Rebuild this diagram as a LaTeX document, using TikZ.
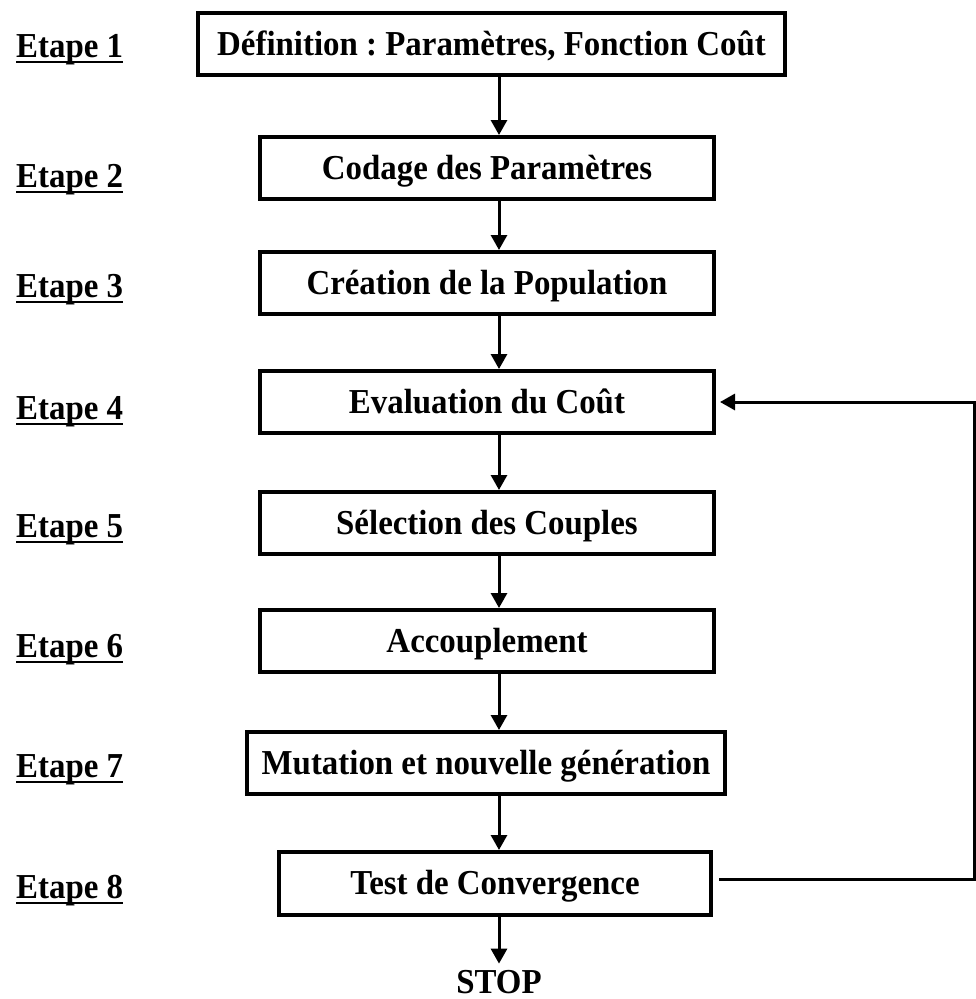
\documentclass[tikz,border=0pt]{standalone}
\usepackage{fontspec}
\setmainfont{Liberation Serif}[FakeStretch=0.94]
\usetikzlibrary{arrows.meta}
\frenchspacing

\begin{document}
\begin{tikzpicture}[
    x=1pt, y=-1pt,
    box/.style={draw, line width=4pt, minimum width=454pt, minimum height=62pt,
                inner sep=0pt, text height=28pt, text depth=6pt,
                font=\fontsize{35}{42}\selectfont\bfseries},
    etape/.style={anchor=base west, inner sep=0pt,
                  font=\fontsize{35}{42}\selectfont\bfseries},
    uline/.style={line width=2.5pt},
    flow/.style={line width=3pt, -{Triangle[length=15pt, width=16pt]}},
    >=Stealth
  ]
  \useasboundingbox (0,0) rectangle (976,999);

  % Steps
  \node[box, minimum width=587pt] (def) at (491.5, 44) {D\'efinition : Param\`etres, Fonction Co\^ut};
  \node[box] (cod) at (487, 168) {Codage des Param\`etres};
  \node[box] (pop) at (487, 283) {Cr\'eation de la Population};
  \node[box] (eval) at (487, 402) {Evaluation du Co\^ut};
  \node[box] (sel) at (487, 523) {S\'election des Couples};
  \node[box] (acc) at (487, 641) {Accouplement};
  \node[box, minimum width=478pt] (mut) at (486, 763) {Mutation et nouvelle g\'en\'eration};
  \node[box, minimum width=432pt, minimum height=63pt] (test) at (495, 883.5) {Test de Convergence};
  \node[anchor=base, inner sep=0pt,
        font=\fontsize{35}{42}\selectfont\bfseries] (stop) at (499, 993) {STOP};

  % Labels
  \node[etape] (e1) at (16, 57) {Etape 1};
  \draw[uline] ([yshift=-5pt]e1.base west) -- ([yshift=-5pt]e1.base east);
  \node[etape] (e2) at (16, 187) {Etape 2};
  \draw[uline] ([yshift=-5pt]e2.base west) -- ([yshift=-5pt]e2.base east);
  \node[etape] (e3) at (16, 297) {Etape 3};
  \draw[uline] ([yshift=-5pt]e3.base west) -- ([yshift=-5pt]e3.base east);
  \node[etape] (e4) at (16, 419) {Etape 4};
  \draw[uline] ([yshift=-5pt]e4.base west) -- ([yshift=-5pt]e4.base east);
  \node[etape] (e5) at (16, 537) {Etape 5};
  \draw[uline] ([yshift=-5pt]e5.base west) -- ([yshift=-5pt]e5.base east);
  \node[etape] (e6) at (16, 657) {Etape 6};
  \draw[uline] ([yshift=-5pt]e6.base west) -- ([yshift=-5pt]e6.base east);
  \node[etape] (e7) at (16, 777) {Etape 7};
  \draw[uline] ([yshift=-5pt]e7.base west) -- ([yshift=-5pt]e7.base east);
  \node[etape] (e8) at (16, 898) {Etape 8};
  \draw[uline] ([yshift=-5pt]e8.base west) -- ([yshift=-5pt]e8.base east);

  % Flow
  \coordinate (ax) at (499, 0);
  \draw[flow] (def.south -| ax) -- (cod.north -| ax);
  \draw[flow] (cod.south -| ax) -- (pop.north -| ax);
  \draw[flow] (pop.south -| ax) -- (eval.north -| ax);
  \draw[flow] (eval.south -| ax) -- (sel.north -| ax);
  \draw[flow] (sel.south -| ax) -- (acc.north -| ax);
  \draw[flow] (acc.south -| ax) -- (mut.north -| ax);
  \draw[flow] (mut.south -| ax) -- (test.north -| ax);
  \draw[flow, shorten >=6pt] (test.south -| ax) -- (stop.north -| ax);

  % Loop back
  \coordinate (lp) at (974, 0);
  \coordinate (out) at ([xshift=6pt, yshift=4pt]test.east);
  \draw[flow] (out) -- (out -| lp) |- ([xshift=4pt]eval.east);

\end{tikzpicture}
\end{document}
